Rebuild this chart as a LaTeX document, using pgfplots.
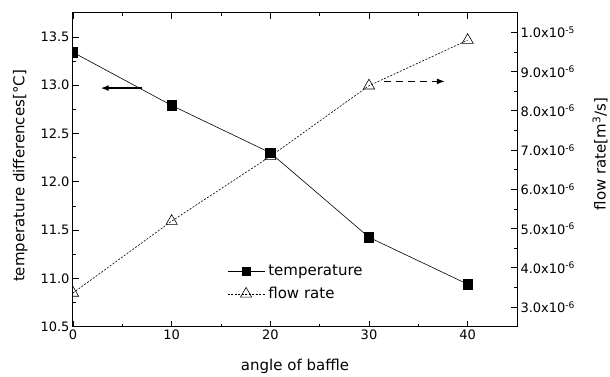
\documentclass[border=0pt]{standalone}
\usepackage{fontspec}
\setmainfont{DejaVu Sans}
\usepackage{pgfplots}
\pgfplotsset{compat=1.18}
\usetikzlibrary{calc,arrows.meta}

\begin{document}
\begin{tikzpicture}
\pgfplotsset{
  common/.style={
    scale only axis, width=444pt, height=314pt,
    xmin=0, xmax=45,
    tick align=inside,
    major tick length=6pt, minor tick length=3pt,
    every tick/.style={black, line width=0.7pt},
    axis line style={line width=1pt},
    ticklabel style={font=\fontsize{13}{15}\selectfont},
    label style={font=\fontsize{15}{17}\selectfont},
    /pgf/number format/assume math mode=true,
    clip mode=individual,
    clip marker paths=true,
  }
}
\begin{axis}[common, name=ax,
  ymin=10.5, ymax=13.75,
  xtick={0,10,20,30,40}, minor x tick num=1,
  ytick={10.5,11,11.5,12,12.5,13,13.5}, minor y tick num=1,
  xtick pos=both, xticklabel pos=bottom,
  ytick pos=left,
  yticklabel style={/pgf/number format/.cd, fixed, fixed zerofill, precision=1},
  xlabel={angle of baffle}, ylabel={temperature differences[°C]},
  xlabel style={at={(axis description cs:0.5,-0.125)}, anchor=center},
  ylabel style={at={(axis description cs:-0.119,0.48)}, anchor=center},
]
\addplot[black, line width=0.6pt, mark=square*, mark size=4.7pt] coordinates {(0,13.34) (10,12.79) (20,12.30) (30,11.425) (40,10.94)};
\draw[-{Latex[length=8pt,width=6pt]}, line width=1.6pt] (axis cs:6.97,12.97) -- (axis cs:2.8,12.97);
\end{axis}
\begin{axis}[common,
  ymin=2.5e-6, ymax=10.5e-6,
  axis x line=none, axis y line*=right,
  scaled y ticks=false,
  ytick={3e-6,4e-6,5e-6,6e-6,7e-6,8e-6,9e-6,1e-5}, minor y tick num=1,
  yticklabels={3.0x10\textsuperscript{-6},4.0x10\textsuperscript{-6},5.0x10\textsuperscript{-6},6.0x10\textsuperscript{-6},7.0x10\textsuperscript{-6},8.0x10\textsuperscript{-6},9.0x10\textsuperscript{-6},1.0x10\textsuperscript{-5}},
  ytick pos=right, yticklabel pos=right,
  ylabel={flow rate[m\textsuperscript{3}/s]},
  ylabel style={at={(axis description cs:1.187,0.55)}, anchor=center},
  legend style={at={(0.347,0.207)}, anchor=north west, draw=none, fill=none,
    font=\fontsize{15}{17}\selectfont, row sep=3pt, inner sep=0pt,
    nodes={inner sep=3.5pt}},
  legend cell align=left,
  legend image code/.code={\draw[mark repeat=2,mark phase=2] plot coordinates {(0cm,0cm) (0.65cm,0cm) (1.3cm,0cm)};},
]
\addlegendimage{black, line width=0.6pt, mark=square*, mark size=4pt}
\addlegendentry{temperature}
\addplot[black, line width=0.6pt, dash pattern=on 2pt off 1.5pt, mark=triangle, mark size=6.5pt, mark options={solid}] coordinates {(0,3.36e-6) (10,5.19e-6) (20,6.84e-6) (30,8.64e-6) (40,9.80e-6)};
\addlegendentry{flow rate}
\draw[-{Latex[length=8pt,width=6pt]}, line width=1.6pt, dash pattern=on 7pt off 5pt] (axis cs:31.5,8.75e-6) -- (axis cs:37.7,8.75e-6);
\end{axis}
\pgfresetboundingbox
\path[use as bounding box] ($(ax.south west)+(-73pt,-49.3pt)$) rectangle ($(ax.north east)+(93pt,12.7pt)$);
\end{tikzpicture}
\end{document}
